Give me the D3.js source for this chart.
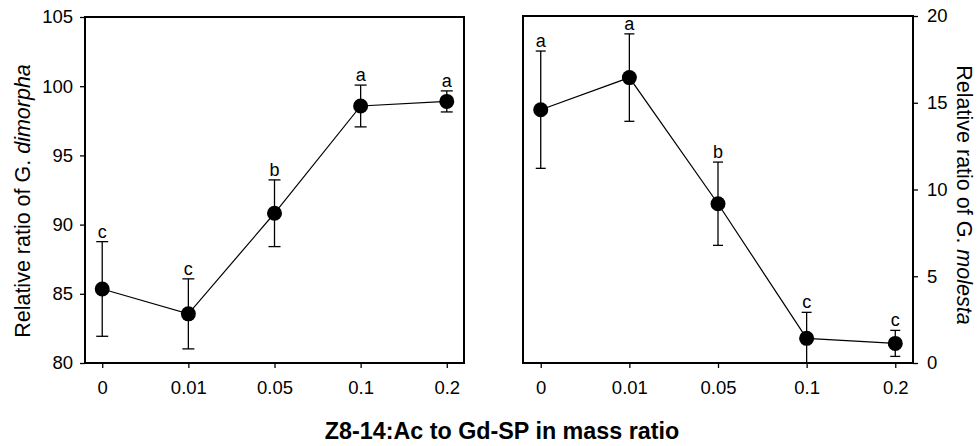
<!DOCTYPE html>
<html>
<head>
<meta charset="utf-8">
<script src="https://cdn.jsdelivr.net/npm/d3@7"></script>
<style>
  body { margin: 0; background: #fff; }
  text { font-family: "Liberation Sans", Arial, sans-serif; fill: #000; }
</style>
</head>
<body>
<script>
// mass ratio categories (shared by both panels)
var categories = ["0", "0.01", "0.05", "0.1", "0.2"];

// left panel: G. dimorpha
var dimorphaMean = [85.35, 83.55, 90.82, 98.57, 98.9];
var dimorphaSE = [3.42, 2.53, 2.41, 1.51, 0.76];
var dimorphaLetters = ["c", "c", "b", "a", "a"];
var dimorphaTicks = [80, 85, 90, 95, 100, 105];

// right panel: G. molesta
var molestaMean = [14.6, 16.45, 9.18, 1.42, 1.13];
var molestaSE = [3.38, 2.52, 2.4, 1.5, 0.75];
var molestaLetters = ["a", "a", "b", "c", "c"];
var molestaTicks = [0, 5, 10, 15, 20];

var W = 977, H = 446;

var svg = d3.select("body").append("svg")
    .attr("width", W)
    .attr("height", H);

function panel(opt) {
  var x = d3.scalePoint().domain(categories).range([opt.x0, opt.x1]).padding(0.2);
  var y = d3.scaleLinear().domain(opt.domain).range([opt.y1, opt.y0]);

  var g = svg.append("g");

  // clip so bars going below the axis get cut at the frame
  var clipId = "clip" + opt.id;
  svg.append("clipPath").attr("id", clipId)
    .append("rect")
      .attr("x", opt.x0).attr("y", opt.y0)
      .attr("width", opt.x1 - opt.x0).attr("height", opt.y1 - opt.y0);

  // y axis
  var yAxis = (opt.side == "left" ? d3.axisLeft(y) : d3.axisRight(y))
      .tickValues(opt.ticks).tickSize(5).tickSizeOuter(0).tickPadding(opt.side == "left" ? 7 : 9);
  var ya = g.append("g")
      .attr("transform", "translate(" + (opt.side == "left" ? opt.x0 : opt.x1) + ",0)")
      .call(yAxis);
  ya.select(".domain").remove();
  ya.selectAll("line").attr("stroke", "#000").attr("stroke-width", 1.3);
  ya.selectAll("text").style("font-size", "18.5px").attr("font-family", null);

  // x axis
  var xAxis = d3.axisBottom(x).tickSize(5).tickSizeOuter(0).tickPadding(13);
  var xa = g.append("g")
      .attr("transform", "translate(0," + opt.y1 + ")")
      .call(xAxis);
  xa.select(".domain").remove();
  xa.selectAll("line").attr("stroke", "#000").attr("stroke-width", 1.3);
  xa.selectAll("text").style("font-size", "18.5px").attr("font-family", null);

  // frame
  g.append("rect")
      .attr("x", opt.x0).attr("y", opt.y0)
      .attr("width", opt.x1 - opt.x0).attr("height", opt.y1 - opt.y0)
      .attr("fill", "none").attr("stroke", "#000").attr("stroke-width", 2);

  var data = categories.map(function(c, i) {
    return {c: c, m: opt.mean[i], se: opt.se[i], l: opt.letters[i]};
  });

  var inner = g.append("g").attr("clip-path", "url(#" + clipId + ")");

  // error bars
  var eb = inner.selectAll("g.err").data(data).enter().append("g").attr("class", "err");
  eb.append("line")
      .attr("x1", function(d) { return x(d.c); }).attr("x2", function(d) { return x(d.c); })
      .attr("y1", function(d) { return y(d.m + d.se); })
      .attr("y2", function(d) { return y(d.m - d.se); })
      .attr("stroke", "#000").attr("stroke-width", 1.3);
  [1, -1].forEach(function(s) {
    eb.append("line")
        .attr("x1", function(d) { return x(d.c) - opt.cap; })
        .attr("x2", function(d) { return x(d.c) + opt.cap; })
        .attr("y1", function(d) { return y(d.m + s * d.se); })
        .attr("y2", function(d) { return y(d.m + s * d.se); })
        .attr("stroke", "#000").attr("stroke-width", 1.3);
  });

  // line
  var line = d3.line().x(function(d) { return x(d.c); }).y(function(d) { return y(d.m); });
  inner.append("path").datum(data)
      .attr("d", line)
      .attr("fill", "none").attr("stroke", "#000").attr("stroke-width", 1.2);

  // points
  inner.selectAll("circle").data(data).enter().append("circle")
      .attr("cx", function(d) { return x(d.c); })
      .attr("cy", function(d) { return y(d.m); })
      .attr("r", 7.5)
      .attr("fill", "#000");

  // significance letters
  g.selectAll("text.sig").data(data).enter().append("text")
      .attr("class", "sig")
      .attr("x", function(d) { return x(d.c); })
      .attr("y", function(d) { return y(d.m + d.se) - 4; })
      .attr("text-anchor", "middle")
      .style("font-size", "18px")
      .text(function(d) { return d.l; });
}

panel({id: "L", side: "left", x0: 85, x1: 464, y0: 17, y1: 363,
       domain: [80, 105], ticks: dimorphaTicks, mean: dimorphaMean, se: dimorphaSE,
       letters: dimorphaLetters, cap: 6});
panel({id: "R", side: "right", x0: 523, x1: 913, y0: 16, y1: 363,
       domain: [0, 20], ticks: molestaTicks, mean: molestaMean, se: molestaSE,
       letters: molestaLetters, cap: 5});

// axis titles
var lt = svg.append("text")
    .attr("transform", "translate(30,201) rotate(-90)")
    .attr("text-anchor", "middle")
    .style("font-size", "21.5px");
lt.append("tspan").text("Relative ratio of G. ");
lt.append("tspan").style("font-style", "italic").text("dimorpha");

var rt = svg.append("text")
    .attr("transform", "translate(957,195) rotate(90)")
    .attr("text-anchor", "middle")
    .style("font-size", "21.5px");
rt.append("tspan").text("Relative ratio of G. ");
rt.append("tspan").style("font-style", "italic").text("molesta");

svg.append("text")
    .attr("x", 502).attr("y", 439)
    .attr("text-anchor", "middle")
    .style("font-size", "23.3px")
    .style("font-weight", "bold")
    .text("Z8-14:Ac to Gd-SP in mass ratio");
</script>
</body>
</html>
